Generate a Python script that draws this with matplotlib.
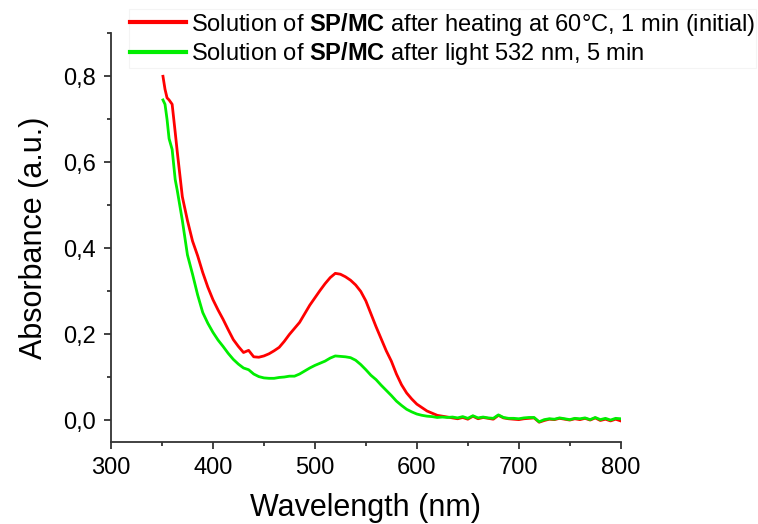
import matplotlib
matplotlib.use("Agg")
import matplotlib.pyplot as plt
from matplotlib.ticker import MultipleLocator, FuncFormatter

plt.rcParams['font.family'] = ['Liberation Sans', 'DejaVu Sans']
plt.rcParams['mathtext.fontset'] = 'custom'
plt.rcParams['mathtext.rm'] = 'Liberation Sans'
plt.rcParams['mathtext.bf'] = 'Liberation Sans:bold'

# wavelength (nm)
wl = [351, 353, 355, 357, 360, 363, 365, 370, 375, 380, 385, 390, 395, 400,
      405, 410, 415, 420, 425, 430, 435, 440, 445, 450, 455, 460, 465, 470,
      475, 480, 485, 490, 495, 500, 505, 510, 515, 520, 525, 530, 535, 540,
      545, 550, 555, 560, 565, 570, 575, 580, 585, 590, 595, 600, 605, 610,
      615, 620, 625, 630, 635, 640, 645, 650, 655, 660, 665, 670, 675, 680,
      685, 690, 695, 700, 705, 710, 715, 720, 725, 730, 735, 740, 745, 750,
      755, 760, 765, 770, 775, 780, 785, 790, 795, 800]

# absorbance after heating (initial)
abs_heat = [0.800, 0.770, 0.750, 0.745, 0.735, 0.670, 0.625, 0.520, 0.465, 0.417,
            0.383, 0.344, 0.310, 0.281, 0.257, 0.235, 0.211, 0.188, 0.172, 0.158,
            0.163, 0.148, 0.147, 0.150, 0.155, 0.162, 0.170, 0.184, 0.200, 0.214,
            0.228, 0.248, 0.268, 0.285, 0.302, 0.318, 0.332, 0.342, 0.340, 0.334,
            0.326, 0.315, 0.300, 0.278, 0.248, 0.218, 0.190, 0.162, 0.138, 0.108,
            0.083, 0.064, 0.050, 0.038, 0.030, 0.022, 0.017, 0.012, 0.010, 0.008,
            0.006, 0.004, 0.007, 0.003, 0.010, 0.004, 0.007, 0.005, 0.003, 0.012,
            0.006, 0.004, 0.003, 0.002, 0.004, 0.005, 0.006, -0.004, 0.000, 0.003,
            0.002, 0.005, 0.003, 0.001, 0.004, 0.002, 0.005, 0.001, 0.006, 0.000,
            0.003, -0.001, 0.003, -0.001]

# absorbance after 532 nm light
abs_light = [0.745, 0.735, 0.700, 0.655, 0.630, 0.560, 0.535, 0.465, 0.385, 0.340,
             0.292, 0.251, 0.226, 0.205, 0.187, 0.172, 0.156, 0.142, 0.131, 0.122,
             0.118, 0.108, 0.102, 0.099, 0.098, 0.098, 0.100, 0.101, 0.103, 0.103,
             0.108, 0.115, 0.122, 0.128, 0.133, 0.138, 0.145, 0.150, 0.149, 0.148,
             0.146, 0.140, 0.130, 0.118, 0.105, 0.095, 0.082, 0.070, 0.058, 0.045,
             0.035, 0.026, 0.020, 0.015, 0.012, 0.010, 0.009, 0.007, 0.008, 0.007,
             0.008, 0.006, 0.009, 0.005, 0.011, 0.006, 0.008, 0.006, 0.005, 0.013,
             0.007, 0.005, 0.005, 0.004, 0.006, 0.007, 0.007, -0.003, 0.002, 0.004,
             0.003, 0.006, 0.004, 0.002, 0.005, 0.004, 0.006, 0.002, 0.007, 0.002,
             0.005, 0.001, 0.005, 0.004]

labels = ["Solution of $\\mathbf{SP/MC}$ after heating at 60\u00b0C, 1 min (initial)",
          "Solution of $\\mathbf{SP/MC}$ after light 532 nm, 5 min"]

fig = plt.figure(figsize=(7.58, 5.24), dpi=100)
ax = fig.add_axes([0.1464, 0.1565, 0.6725, 0.78])

ax.plot(wl, abs_heat, color="#ff0000", lw=2, label=labels[0])
ax.plot(wl, abs_light, color="#00ee00", lw=2, label=labels[1])

ax.set_xlim(300, 800)
ax.set_ylim(-0.05, 0.9)

# akser og ticks
ax.spines['top'].set_visible(False)
ax.spines['right'].set_visible(False)
for s in ['left', 'bottom']:
    ax.spines[s].set_linewidth(1.3)
    ax.spines[s].set_color('#333333')

ax.xaxis.set_major_locator(MultipleLocator(100))
ax.xaxis.set_minor_locator(MultipleLocator(50))
ax.yaxis.set_major_locator(MultipleLocator(0.2))
ax.yaxis.set_minor_locator(MultipleLocator(0.1))
ax.yaxis.set_major_formatter(FuncFormatter(lambda v, p: f"{v:.1f}".replace(".", ",")))
ax.tick_params(which='major', length=5, width=1.3, color='#333333', labelsize=17, pad=6)
ax.tick_params(which='minor', length=3, width=1.3, color='#333333')

ax.set_xlabel("Wavelength (nm)", fontsize=22, labelpad=10)
ax.set_ylabel("Absorbance (a.u.)", fontsize=22, labelpad=10)

leg = fig.legend(loc='upper left', bbox_to_anchor=(0.170, 0.982), fontsize=17,
                 handlelength=2.37, handletextpad=0.2, labelspacing=0.1,
                 borderaxespad=0, borderpad=0.05,
                 frameon=True, fancybox=False)
leg.get_frame().set_edgecolor('#f2f2f2')
leg.get_frame().set_linewidth(0.8)
for line in leg.get_lines():
    line.set_linewidth(3)

fig.savefig("out.png", dpi=100)
